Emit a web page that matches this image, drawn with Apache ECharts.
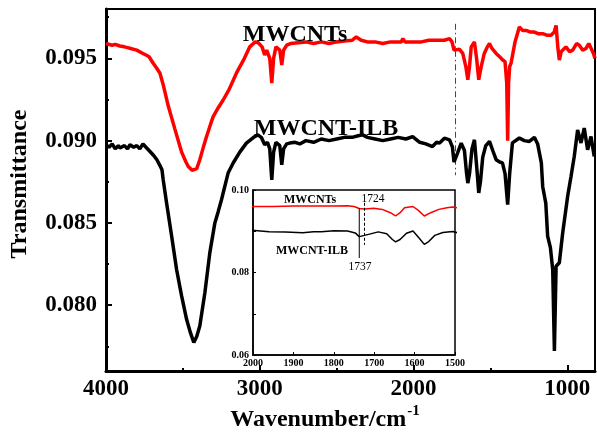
<!DOCTYPE html>
<html>
<head>
<meta charset="utf-8">
<script src="https://cdn.jsdelivr.net/npm/echarts@6/dist/echarts.min.js"></script>
<style>html,body{margin:0;padding:0;background:#fff;}#c{width:597px;height:435px;}</style>
</head>
<body>
<div id="c"></div>
<script>
// ---- Data ----
const redWn = [4000,3960,3940,3910,3880,3860,3840,3800,3760,3740,3720,3693,3670,3649,3628,3595,3552,3508,3480,3465,3440,3427,3410,3390,3370,3346,3320,3303,3270,3238,3200,3152,3100,3065,3030,3010,2985,2968,2955,2935,2922,2910,2895,2870,2857,2845,2825,2800,2750,2700,2650,2600,2550,2500,2450,2400,2373,2340,2300,2250,2200,2150,2100,2080,2069,2055,2000,1950,1900,1850,1800,1766,1750,1737,1724,1701,1680,1660,1647,1636,1625,1604,1590,1576,1560,1540,1520,1506,1490,1463,1440,1420,1405,1394,1388,1382,1375,1366,1340,1312,1290,1268,1240,1214,1190,1160,1130,1106,1085,1073,1062,1052,1040,1009,985,965,940,922,900,879,860,847,830,820];
const redT  = [0.0959,0.0958,0.09585,0.09575,0.0957,0.09565,0.0956,0.0955,0.0953,0.0952,0.0951,0.0947,0.0944,0.0941,0.0934,0.0921,0.0907,0.0893,0.0887,0.08843,0.0882,0.08813,0.0883,0.08884,0.0895,0.09025,0.0910,0.09146,0.0920,0.09247,0.0931,0.0941,0.0950,0.0957,0.0960,0.09595,0.0957,0.0952,0.0955,0.0950,0.0935,0.0950,0.0957,0.0955,0.0946,0.0955,0.0958,0.0959,0.09595,0.0960,0.0959,0.0960,0.0959,0.0960,0.09605,0.0961,0.0963,0.0961,0.0960,0.0960,0.0959,0.0960,0.0960,0.0960,0.0962,0.0960,0.0960,0.0960,0.0961,0.0961,0.0961,0.0962,0.0960,0.0955,0.0954,0.09555,0.0953,0.0945,0.0937,0.0945,0.0957,0.0960,0.0950,0.0937,0.0945,0.0953,0.0957,0.0959,0.0956,0.0953,0.0951,0.0949,0.0948,0.0935,0.0900,0.0935,0.0945,0.0947,0.0960,0.0969,0.0967,0.0967,0.0966,0.0966,0.0965,0.0965,0.0964,0.0964,0.0966,0.0970,0.0957,0.0949,0.0954,0.0957,0.0954,0.0955,0.0959,0.0958,0.0955,0.0956,0.0959,0.0960,0.0953,0.0950];

const blackWn = [4000,3980,3960,3940,3920,3909,3880,3860,3844,3820,3800,3780,3760,3740,3714,3690,3669,3650,3636,3628,3606,3573,3541,3508,3476,3450,3429,3410,3390,3357,3325,3292,3270,3249,3206,3173,3130,3087,3040,3013,2990,2968,2950,2935,2922,2910,2895,2870,2857,2845,2825,2805,2770,2740,2700,2650,2600,2550,2500,2450,2400,2360,2331,2300,2250,2200,2150,2100,2050,2006,1960,1920,1877,1850,1831,1799,1766,1747,1737,1724,1714,1690,1669,1655,1647,1636,1620,1604,1590,1576,1565,1550,1530,1506,1485,1463,1440,1422,1405,1388,1375,1357,1312,1280,1247,1214,1193,1182,1169,1160,1140,1128,1110,1095,1084,1073,1052,1030,998,976,955,933,911,890,868,846,825];
const blackT  = [0.08975,0.0896,0.0898,0.0895,0.0897,0.08955,0.0897,0.0895,0.08975,0.0896,0.0897,0.0895,0.0898,0.0896,0.08934,0.0891,0.08884,0.0885,0.08823,0.08762,0.08621,0.08419,0.08217,0.08055,0.07914,0.0783,0.07773,0.0781,0.07873,0.08076,0.08318,0.0850,0.0857,0.08641,0.08803,0.08864,0.0893,0.08985,0.0902,0.09035,0.0902,0.08975,0.0899,0.0895,0.08762,0.0893,0.0899,0.0897,0.08853,0.0895,0.0898,0.08985,0.0899,0.0898,0.0900,0.0899,0.0901,0.0900,0.0901,0.0902,0.0902,0.0903,0.09035,0.0902,0.0901,0.0900,0.0901,0.0902,0.0901,0.09025,0.0899,0.0898,0.08964,0.0899,0.08985,0.09015,0.09005,0.0896,0.0887,0.0890,0.08924,0.08985,0.0894,0.0880,0.08742,0.0880,0.0895,0.09005,0.0885,0.08682,0.0875,0.0890,0.0897,0.08995,0.0894,0.08884,0.0887,0.08865,0.0880,0.08611,0.0880,0.08986,0.09016,0.0900,0.08995,0.0902,0.0898,0.08975,0.08865,0.0872,0.0862,0.0842,0.0835,0.08217,0.07722,0.08237,0.08258,0.0844,0.08661,0.08782,0.08904,0.09065,0.08986,0.09076,0.08944,0.09025,0.08904];

// main axis ticks / labels
const mainXLabels = [1000,2000,3000,4000];
const mainXMinor = [1500,2500,3500];
const mainYLabels = [0.080,0.085,0.090,0.095];
const mainYMinor = [0.0775,0.0825,0.0875,0.0925,0.0975];

// reference marker lines
const mainMarkWn = 1727, mainMarkRange = [0.0971, 0.0879];
const insetMark1737 = [1737, 0.0956, 0.0835];
const insetMark1724 = [1724, 0.0969, 0.0867];

const zip = (a,b) => a.map((v,i)=>[v,b[i]]);
const FF = "'Liberation Serif','Times New Roman',serif";

const chart = echarts.init(document.getElementById('c'), null, {renderer:'canvas'});
const mainX = {min:820,max:4000,inverse:true,type:'value'};
chart.setOption({
  animation:false,
  backgroundColor:'#fff',
  grid:[
    {left:106,top:9,right:2,bottom:64,show:true,borderColor:'#000',borderWidth:2,backgroundColor:'transparent'},
    {left:253,top:190,width:202,height:165,show:true,borderColor:'#000',borderWidth:1.5,backgroundColor:'#fff'}
  ],
  xAxis:[
    Object.assign({gridIndex:0,position:'bottom',
      axisLine:{show:true,onZero:false,lineStyle:{color:'#000',width:3}},
      axisTick:{show:true,inside:true,length:6,customValues:mainXLabels,lineStyle:{color:'#000',width:2}},
      axisLabel:{customValues:mainXLabels,color:'#000',fontFamily:FF,fontWeight:'bold',fontSize:23,margin:7,formatter:v=>String(v)},
      splitLine:{show:false}},mainX),
    Object.assign({gridIndex:0,position:'bottom',
      axisLine:{show:false},
      axisTick:{show:true,inside:true,length:3,customValues:mainXMinor,lineStyle:{color:'#000',width:2}},
      axisLabel:{show:false},splitLine:{show:false}},mainX),
    {gridIndex:1,type:'value',min:1500,max:2000,interval:100,inverse:true,
      axisLine:{show:true,onZero:false,lineStyle:{color:'#000',width:1.5}},
      axisTick:{inside:true,length:3,lineStyle:{color:'#000',width:1}},
      axisLabel:{color:'#000',fontFamily:FF,fontWeight:'bold',fontSize:10,margin:3,formatter:v=>String(v)},
      splitLine:{show:false}}
  ],
  yAxis:[
    {gridIndex:0,type:'value',min:0.076,max:0.098,position:'left',
      axisLine:{show:true,onZero:false,lineStyle:{color:'#000',width:3}},
      axisTick:{show:true,inside:true,length:6,customValues:mainYLabels,lineStyle:{color:'#000',width:2}},
      axisLabel:{customValues:mainYLabels,color:'#000',fontFamily:FF,fontWeight:'bold',fontSize:23,margin:9,formatter:v=>v.toFixed(3)},
      splitLine:{show:false}},
    {gridIndex:0,type:'value',min:0.076,max:0.098,position:'left',
      axisLine:{show:false},
      axisTick:{show:true,inside:true,length:3,customValues:mainYMinor,lineStyle:{color:'#000',width:2}},
      axisLabel:{show:false},splitLine:{show:false}},
    {gridIndex:1,type:'value',min:0.06,max:0.10,interval:0.01,
      axisLine:{show:true,onZero:false,lineStyle:{color:'#000',width:1.5}},
      axisTick:{inside:true,length:3,lineStyle:{color:'#000',width:1}},
      axisLabel:{color:'#000',fontFamily:FF,fontWeight:'bold',fontSize:10,margin:4,
        formatter:v=>(Math.round(v*100)%2===0?v.toFixed(2):'')},
      splitLine:{show:false}}
  ],
  series:[
    {type:'line',xAxisIndex:0,yAxisIndex:0,data:zip(redWn,redT),showSymbol:false,symbol:'none',
      lineStyle:{color:'#ff0000',width:3.5},z:3},
    {type:'line',xAxisIndex:0,yAxisIndex:0,data:zip(blackWn,blackT),showSymbol:false,symbol:'none',
      lineStyle:{color:'#000',width:3.5},z:3},
    {type:'line',xAxisIndex:0,yAxisIndex:0,data:[[mainMarkWn,mainMarkRange[0]],[mainMarkWn,mainMarkRange[1]]],
      showSymbol:false,symbol:'none',lineStyle:{color:'#444',width:1,type:[6,3,1.5,3]},z:2},
    {type:'line',xAxisIndex:2,yAxisIndex:2,data:zip(redWn,redT),showSymbol:false,symbol:'none',
      lineStyle:{color:'#ff0000',width:1.5},z:5},
    {type:'line',xAxisIndex:2,yAxisIndex:2,data:zip(blackWn,blackT),showSymbol:false,symbol:'none',
      lineStyle:{color:'#000',width:1.5},z:5},
    {type:'line',xAxisIndex:2,yAxisIndex:2,data:[[insetMark1737[0],insetMark1737[1]],[insetMark1737[0],insetMark1737[2]]],
      showSymbol:false,symbol:'none',lineStyle:{color:'#000',width:1},z:5},
    {type:'line',xAxisIndex:2,yAxisIndex:2,data:[[insetMark1724[0],insetMark1724[1]],[insetMark1724[0],insetMark1724[2]]],
      showSymbol:false,symbol:'none',lineStyle:{color:'#000',width:1,type:[3,2]},z:5}
  ],
  graphic:[
    {type:'text',x:295,y:35,z:10,style:{text:'MWCNTs',textAlign:'center',textVerticalAlign:'middle',align:'center',verticalAlign:'middle',font:'bold 24px '+FF,fill:'#000'}},
    {type:'text',x:326,y:129,z:10,style:{text:'MWCNT-ILB',textAlign:'center',textVerticalAlign:'middle',align:'center',verticalAlign:'middle',font:'bold 24px '+FF,fill:'#000'}},
    {type:'text',x:20,y:184,rotation:Math.PI/2,z:10,style:{text:'Transmittance',textAlign:'center',textVerticalAlign:'middle',align:'center',verticalAlign:'middle',font:'bold 24px '+FF,fill:'#000'}},
    {type:'text',x:325,y:418,z:10,style:{text:'{a|Wavenumber/cm}{b|-1}',textAlign:'center',textVerticalAlign:'middle',align:'center',verticalAlign:'middle',
      rich:{a:{fontFamily:FF,fontWeight:'bold',fontSize:24,lineHeight:28,verticalAlign:'bottom'},b:{fontFamily:FF,fontWeight:'bold',fontSize:15,lineHeight:28,verticalAlign:'top',padding:[0,0,0,1]}},fill:'#000'}},
    {type:'text',x:310,y:200,z:20,style:{text:'MWCNTs',textAlign:'center',textVerticalAlign:'middle',align:'center',verticalAlign:'middle',font:'bold 12px '+FF,fill:'#000'}},
    {type:'text',x:373,y:199,z:20,style:{text:'1724',textAlign:'center',textVerticalAlign:'middle',align:'center',verticalAlign:'middle',font:'11.5px '+FF,fill:'#000'}},
    {type:'text',x:312,y:251,z:20,style:{text:'MWCNT-ILB',textAlign:'center',textVerticalAlign:'middle',align:'center',verticalAlign:'middle',font:'bold 12px '+FF,fill:'#000'}},
    {type:'text',x:360,y:267,z:20,style:{text:'1737',textAlign:'center',textVerticalAlign:'middle',align:'center',verticalAlign:'middle',font:'11.5px '+FF,fill:'#000'}}
  ]
});
</script>
</body>
</html>
